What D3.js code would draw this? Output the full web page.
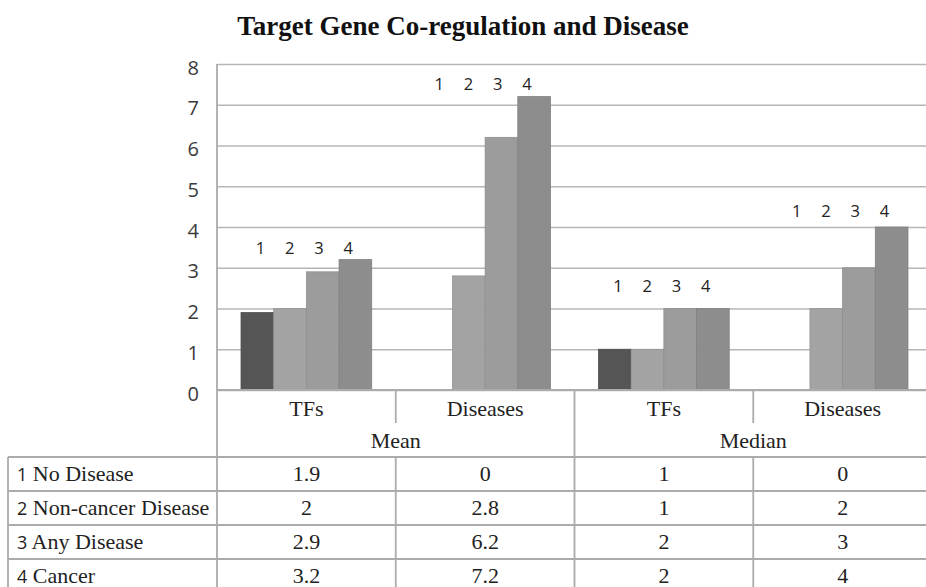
<!DOCTYPE html>
<html>
<head>
<meta charset="utf-8">
<script src="https://cdn.jsdelivr.net/npm/d3@7"></script>
<style>
body { margin:0; background:#fff; }
svg { display:block; }
</style>
</head>
<body>
<div id="wrapper"></div>
<script>
// data
var categories = ["TFs", "Diseases", "TFs", "Diseases"];
var stats = ["Mean", "Median"];
var seriesNames = ["No Disease", "Non-cancer Disease", "Any Disease", "Cancer"];
var noDisease = [1.9, 0, 1, 0];
var nonCancer = [2, 2.8, 1, 2];
var anyDisease = [2.9, 6.2, 2, 3];
var cancer = [3.2, 7.2, 2, 4];
var labelLevel = [3.33, 7.35, 2.4, 4.25]; // where the "1 2 3 4" notes sit, in value units
var yTicks = [0, 1, 2, 3, 4, 5, 6, 7, 8];

var values = [noDisease, nonCancer, anyDisease, cancer];
var colors = ["#555555", "#a3a3a3", "#9c9c9c", "#8d8d8d"];

var w = 926, h = 587;
var plotL = 217, plotR = 932, plotT = 64, plotB = 390;
var tableTop = 457, rowH = 34, tableLeft = 8;
var serif = "'Liberation Serif', 'Times New Roman', serif";
var sans = "'Open Sans', 'DejaVu Sans', sans-serif";
var lineCol = "#ababab";

var svg = d3.select("#wrapper").append("svg")
	.attr("width", w).attr("height", h);

var x0 = d3.scaleBand().domain(d3.range(categories.length)).range([plotL, plotR]);
var x1 = d3.scaleBand().domain(d3.range(seriesNames.length))
	.range([0, x0.bandwidth()]).paddingInner(0).paddingOuter(0.735);
var y = d3.scaleLinear().domain([0, 8]).range([plotB, plotT]);

// title
svg.append("text")
	.attr("x", 463).attr("y", 35)
	.attr("text-anchor", "middle")
	.attr("font-family", serif).attr("font-weight", "bold")
	.attr("font-size", "27px").attr("fill", "#111")
	.text("Target Gene Co-regulation and Disease");

// gridlines
var grid = svg.append("g").attr("transform", "translate(" + plotL + ",0)")
	.call(d3.axisLeft(y).tickValues(yTicks).tickSize(-(plotR - plotL)).tickFormat(""));
grid.select(".domain").remove();
grid.selectAll("line").attr("stroke", "#b6b6b6").attr("stroke-width", 1.5);

// y labels
var yAx = svg.append("g").attr("transform", "translate(199,0)")
	.call(d3.axisLeft(y).tickValues(yTicks).tickSize(0).tickPadding(0));
yAx.attr("font-family", sans).attr("font-size", "20px");
yAx.select(".domain").remove();
yAx.selectAll("text")
	.attr("fill", "#3a3a3a").attr("dy", "0.68em").attr("y", -3.5);

// bars
var groups = svg.append("g").selectAll("g")
	.data(categories)
	.enter().append("g")
	.attr("transform", function(d, i) { return "translate(" + x0(i) + ",0)"; });

groups.selectAll("rect")
	.data(function(d, i) { return values.map(function(s, k) { return {k: k, v: s[i]}; }); })
	.enter().append("rect")
	.attr("x", function(d) { return x1(d.k); })
	.attr("width", x1.bandwidth())
	.attr("y", function(d) { return y(d.v); })
	.attr("height", function(d) { return plotB - y(d.v); })
	.attr("fill", function(d) { return colors[d.k]; })
	.attr("stroke", function(d) { return d.v > 0 ? d3.color(colors[d.k]).darker(0.25) : "none"; })
	.attr("stroke-width", 0.8);

// "1 2 3 4" notes over each group
groups.each(function(d, i) {
	var g = d3.select(this);
	var cx = x0.bandwidth() / 2 - 2;
	seriesNames.forEach(function(n, k) {
		g.append("text")
			.attr("x", cx + (k - 1.5) * 29.3)
			.attr("y", y(labelLevel[i]))
			.attr("text-anchor", "middle")
			.attr("font-family", sans).attr("font-size", "16.5px")
			.attr("fill", "#222")
			.text(k + 1);
	});
});

// axis line + left axis
svg.append("line").attr("x1", plotL).attr("x2", plotR).attr("y1", plotB).attr("y2", plotB)
	.attr("stroke", lineCol).attr("stroke-width", 1.8);
svg.append("line").attr("x1", plotL).attr("x2", plotL).attr("y1", plotT).attr("y2", h)
	.attr("stroke", lineCol).attr("stroke-width", 1.8);

// category axis
var xAx = svg.append("g").attr("transform", "translate(0," + plotB + ")")
	.call(d3.axisBottom(x0).tickSize(0).tickPadding(0).tickFormat(function(i) { return categories[i]; }));
xAx.attr("font-family", serif).attr("font-size", "22px");
xAx.select(".domain").remove();
xAx.selectAll("text")
	.attr("fill", "#222").attr("dy", 0).attr("y", 26);

// stat labels (Mean / Median)
stats.forEach(function(s, j) {
	var a = x0(j * 2), b = x0(j * 2 + 1) + x0.bandwidth();
	svg.append("text")
		.attr("x", (a + b) / 2).attr("y", 448)
		.attr("text-anchor", "middle")
		.attr("font-family", serif).attr("font-size", "22px")
		.attr("fill", "#222").text(s);
	// short divider between TFs and Diseases in header
	svg.append("line").attr("x1", x0(j * 2 + 1)).attr("x2", x0(j * 2 + 1))
		.attr("y1", plotB).attr("y2", 423).attr("stroke", lineCol).attr("stroke-width", 1.8);
});
svg.append("line").attr("x1", x0(2)).attr("x2", x0(2)).attr("y1", plotB).attr("y2", h)
	.attr("stroke", lineCol).attr("stroke-width", 1.8);

// data table
var rows = d3.range(seriesNames.length);
rows.concat([seriesNames.length]).forEach(function(r) {
	svg.append("line").attr("x1", tableLeft).attr("x2", plotR)
		.attr("y1", tableTop + r * rowH).attr("y2", tableTop + r * rowH)
		.attr("stroke", lineCol).attr("stroke-width", 1.8);
});
[tableLeft, x0(1), x0(3)].forEach(function(xv) {
	svg.append("line").attr("x1", xv).attr("x2", xv).attr("y1", tableTop).attr("y2", h)
		.attr("stroke", lineCol).attr("stroke-width", 1.8);
});

rows.forEach(function(r) {
	var ty = tableTop + r * rowH + 23.5;
	var lab = svg.append("text").attr("x", 17).attr("y", ty)
		.attr("font-family", serif).attr("font-size", "22px").attr("fill", "#222");
	lab.append("tspan").attr("font-family", sans).attr("font-size", "18px").text(r + 1);
	lab.append("tspan").text(" " + seriesNames[r]);
	categories.forEach(function(c, i) {
		svg.append("text")
			.attr("x", x0(i) + x0.bandwidth() / 2).attr("y", ty)
			.attr("text-anchor", "middle")
			.attr("font-family", serif).attr("font-size", "22px")
			.attr("fill", "#222").text(values[r][i]);
	});
});
</script>
</body>
</html>
